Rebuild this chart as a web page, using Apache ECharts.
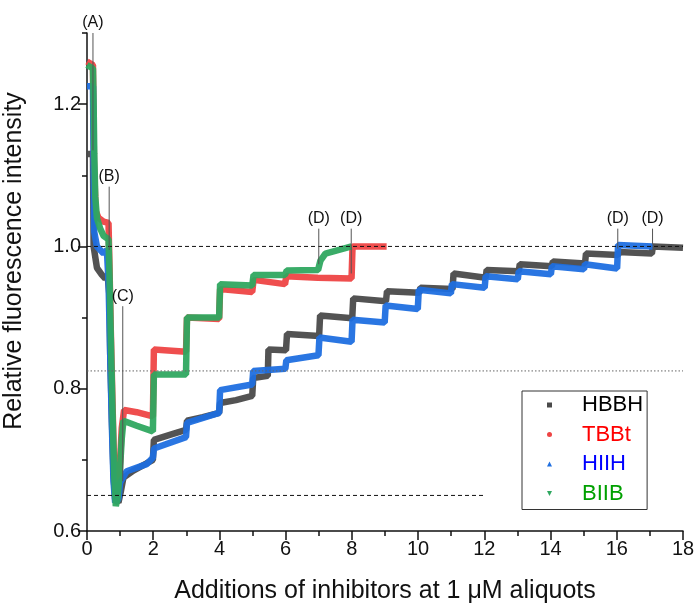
<!DOCTYPE html>
<html><head><meta charset="utf-8">
<script src="https://cdn.jsdelivr.net/npm/echarts@6/dist/echarts.min.js"></script>
<style>html,body{margin:0;padding:0;background:#fff}#c{width:695px;height:609px}</style>
</head><body><div id="c"></div>
<script>
// ---- data ----
const hbbh = [[0,1.13],[0.18,1.13],[0.2,1.0],[0.3,0.97],[0.45,0.96],[0.55,0.955],[0.62,0.96],[0.68,0.93],[0.7,0.85],[0.75,0.76],[0.8,0.68],[0.85,0.645],[0.95,0.64],[1.02,0.655],[1.1,0.675],[1.4,0.685],[1.8,0.695],[1.99,0.7],[2.02,0.728],[2.5,0.735],[2.99,0.742],[3.02,0.755],[3.5,0.76],[3.99,0.766],[4.02,0.78],[4.5,0.784],[4.99,0.79],[5.02,0.815],[5.46,0.818],[5.48,0.855],[6.01,0.854],[6.04,0.877],[7.01,0.874],[7.04,0.903],[8.01,0.899],[8.04,0.927],[9.03,0.923],[9.06,0.937],[10.04,0.935],[10.07,0.942],[11.04,0.94],[11.07,0.962],[12.04,0.956],[12.07,0.967],[13.04,0.965],[13.07,0.975],[14.04,0.972],[14.07,0.979],[15.04,0.976],[15.07,0.99],[16.04,0.988],[16.07,0.992],[17.06,0.99],[17.09,1.0],[18.0,0.998]];
const tbbt = [[0,1.26],[0.18,1.255],[0.21,1.12],[0.26,1.05],[0.35,1.04],[0.5,1.035],[0.65,1.033],[0.68,0.97],[0.72,0.88],[0.77,0.78],[0.82,0.69],[0.87,0.66],[0.95,0.665],[1.0,0.7],[1.05,0.745],[1.12,0.77],[1.5,0.767],[1.99,0.761],[2.02,0.855],[2.99,0.852],[3.02,0.9],[3.99,0.898],[4.02,0.94],[4.99,0.936],[5.03,0.953],[5.98,0.947],[6.02,0.958],[6.97,0.956],[7.99,0.955],[8.02,1.0],[9.05,1.0]];
const hiih = [[0,1.225],[0.18,1.225],[0.22,1.02],[0.3,1.0],[0.5,0.99],[0.6,0.995],[0.65,0.95],[0.7,0.85],[0.75,0.75],[0.8,0.67],[0.85,0.64],[0.95,0.645],[1.0,0.668],[1.2,0.684],[1.8,0.694],[1.99,0.703],[2.02,0.716],[2.99,0.732],[3.02,0.752],[3.99,0.766],[4.02,0.798],[4.99,0.806],[5.02,0.825],[5.99,0.828],[6.02,0.84],[6.99,0.847],[7.02,0.872],[7.99,0.866],[8.02,0.897],[8.99,0.893],[9.02,0.917],[9.99,0.912],[10.02,0.939],[10.99,0.934],[11.02,0.947],[12.01,0.942],[12.04,0.958],[13.01,0.954],[13.04,0.965],[14.01,0.961],[14.04,0.972],[15.01,0.968],[15.04,0.975],[16.01,0.969],[16.04,1.002],[17.08,1.0]];
const biib = [[0,1.255],[0.18,1.25],[0.2,1.2],[0.22,1.13],[0.25,1.07],[0.3,1.04],[0.4,1.025],[0.5,1.015],[0.65,1.01],[0.68,0.96],[0.72,0.87],[0.77,0.77],[0.82,0.68],[0.87,0.635],[0.92,0.645],[1.0,0.69],[1.05,0.73],[1.1,0.755],[1.5,0.748],[1.99,0.74],[2.02,0.82],[2.99,0.82],[3.02,0.9],[3.99,0.9],[4.02,0.947],[4.99,0.945],[5.03,0.96],[5.98,0.96],[6.03,0.966],[6.98,0.967],[7.05,0.98],[7.2,0.99],[7.99,1.0]];

const seriesNames = ['HBBH','TBBt','HIIH','BIIB'];
const yMajor = [0.6,0.8,1.0,1.2];
const yMinor = [0.7,0.9,1.1,1.3];
const refDash1 = [[0,1.0],[18,1.0]];
const refDot = [[0,0.825],[18,0.825]];
const refDash2 = [[0,0.65],[12,0.65]];
const annoLabels = ['(A)','(B)','(C)','(D)','(D)','(D)','(D)'];
const annoX = [0.18,0.67,1.08,7.0,7.98,16.03,17.08];
const annoTop = [1.3,1.084,0.916,1.025,1.025,1.025,1.025];
const annoBottom = [1.135,0.995,0.67,0.975,0.962,0.997,1.003];

const colors = ['#4a4a4a','#ee4444','#1f6fe0','#2fa860'];
const legendText = ['#000000','#ff0000','#0000ff','#00a000'];
const icons = ['rect','circle','triangle','path://M0,0 L10,0 L5,10 Z'];
const FONT = '"Liberation Sans", Arial, sans-serif';

const dataSeries = [hbbh,tbbt,hiih,biib].map((d,i)=>({
  name: seriesNames[i], type:'line', data:d, showSymbol:false, symbol:'none',
  lineStyle:{width:6.5,color:colors[i],join:'bevel',opacity:0.95}, itemStyle:{color:colors[i]}, z:2
}));
function ref(d, type, color){
  return {type:'line', data:d, showSymbol:false, symbol:'none', silent:true, z:3,
    lineStyle:{width:1,type:type,color:color}};
}
const annoSeries = annoLabels.map((lab,i)=>({
  type:'line', silent:true, z:4, symbol:'circle', symbolSize:0, showSymbol:true,
  lineStyle:{width:1,color:'#555'}, itemStyle:{color:'#555'},
  data:[{value:[annoX[i],annoTop[i]], label:{show:true,position:'top',distance:2,formatter:lab,color:'#111',fontSize:16,fontFamily:FONT}},
        {value:[annoX[i],annoBottom[i]]}]
}));

const chart = echarts.init(document.getElementById('c'), null, {renderer:'canvas'});
chart.setOption({
  animation:false,
  grid:{left:87,right:12,top:33,bottom:78,containLabel:false,outerBoundsMode:'none'},
  xAxis:{type:'value',min:0,max:18,interval:2,
    name:'Additions of inhibitors at 1 μM aliquots',nameLocation:'middle',nameGap:48,
    nameTextStyle:{fontSize:25,color:'#111',fontFamily:FONT},
    axisLine:{lineStyle:{color:'#111',width:1.5}},
    axisTick:{inside:false,length:9,lineStyle:{color:'#111',width:1.5}},
    minorTick:{show:true,splitNumber:2,length:5,lineStyle:{color:'#111',width:1.5}},
    splitLine:{show:false},
    axisLabel:{fontSize:20,color:'#111',margin:8,fontFamily:FONT}},
  yAxis:[{type:'value',min:0.6,max:1.3,interval:0.1,
    name:'Relative fluorescence intensity',nameLocation:'middle',nameGap:60,
    nameTextStyle:{fontSize:25,color:'#111',fontFamily:FONT,padding:[0,0,0,42]},
    axisLine:{show:true,lineStyle:{color:'#111',width:1.5}},
    axisTick:{show:true,length:9,customValues:yMajor,lineStyle:{color:'#111',width:1.5}},
    splitLine:{show:false},
    axisLabel:{fontSize:20,color:'#111',margin:6,fontFamily:FONT,customValues:yMajor,
      formatter:v=>Number(v).toFixed(1)}},
   {type:'value',min:0.6,max:1.3,interval:0.1,position:'left',
    axisLine:{show:false},
    axisTick:{show:true,length:5,customValues:yMinor,lineStyle:{color:'#111',width:1.5}},
    axisLabel:{show:false},splitLine:{show:false}}],
  legend:{orient:'vertical',left:522,top:391,itemWidth:5,itemHeight:5,itemGap:7.5,
    padding:[3,4,5,25],borderColor:'#333',borderWidth:1,
    textStyle:{fontSize:22,fontFamily:FONT,padding:[0,0,0,25]},
    data:seriesNames.map((n,i)=>({name:n,icon:icons[i],textStyle:{color:legendText[i]}}))},
  series:[...dataSeries, ref(refDash1,[4,3],'#111'), ref(refDot,[1.5,2],'#666'), ref(refDash2,[4,3],'#111'), ...annoSeries]
});
</script></body></html>
